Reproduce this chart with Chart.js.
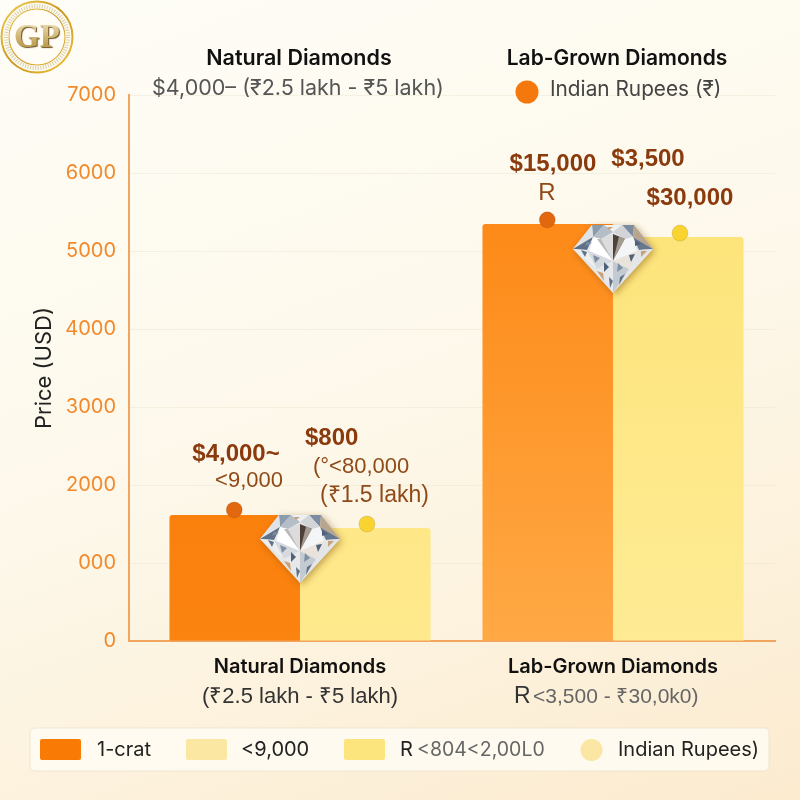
<!DOCTYPE html>
<html>
<head>
<meta charset="utf-8">
<script src="https://cdn.jsdelivr.net/npm/chart.js@4/dist/chart.umd.min.js"></script>
<style>
  html, body { margin: 0; padding: 0; width: 800px; height: 800px; overflow: hidden; }
  body { background: linear-gradient(160deg, #fefdf7 0%, #fdf8ea 50%, #fcebcf 100%); }
  #wrap { position: absolute; left: 0; top: 0; width: 800px; height: 800px; }
</style>
</head>
<body>
<div id="wrap"><canvas id="priceChart" width="800" height="800"></canvas></div>
<script>
// Dados
const categories = ['Natural Diamonds', 'Lab-Grown Diamonds'];
const categorySubs = ['(₹2.5 lakh - ₹5 lakh)', '<3,500 - ₹30,0k0)'];
const orangeValues = [1615, 5346];
const yellowValues = [1450, 5180];
const orangeDotX = [0.79, 1.79];
const orangeDotY = [1680, 5400];
const yellowDotX = [1.214, 2.214];
const yellowDotY = [1500, 5230];
const diamondX = [1, 2];
const diamondY = [1154, 4872];
const yTickLabels = ['0', '000', '2000', '3000', '4000', '5000', '6000', '7000'];

const FONT = 'Inter, "Liberation Sans", sans-serif';
const ARIAL = '"Liberation Sans", sans-serif';

// Diamante desenhado num canvas e usado como pointStyle
function makeDiamond() {
    const c = document.createElement('canvas');
    c.width = 96; c.height = 84;
    const g = c.getContext('2d');
    g.translate(8, 6);
    const face = (pts, col) => {
        g.beginPath();
        pts.forEach((p, i) => i ? g.lineTo(p[0], p[1]) : g.moveTo(p[0], p[1]));
        g.closePath();
        g.fillStyle = col;
        g.fill();
    };
    g.save();
    g.shadowColor = 'rgba(120,70,10,0.45)';
    g.shadowBlur = 7;
    g.shadowOffsetX = 2;
    g.shadowOffsetY = 2;
    face([[19, 0], [61, 0], [80, 24], [40, 68], [0, 24]], '#e4e6e8');
    g.restore();
    // coroa
    face([[19, 0], [31, 0], [20, 12]], '#8d9cad');
    face([[31, 0], [49, 0], [40, 7]], '#eef0f2');
    face([[49, 0], [61, 0], [60, 12]], '#7c8ca0');
    face([[19, 0], [20, 12], [0, 24]], '#dfe3e7');
    face([[61, 0], [60, 12], [80, 24]], '#b8a58e');
    face([[0, 24], [20, 12], [14, 25]], '#5f7087');
    face([[80, 24], [60, 12], [66, 25]], '#66778e');
    face([[20, 12], [31, 0], [40, 7], [28, 14]], '#b5bdc6');
    face([[60, 12], [49, 0], [40, 7], [52, 14]], '#d2d4d7');
    // mesa central
    face([[28, 14], [40, 9], [40, 36]], '#dcdcdc');
    face([[52, 14], [40, 9], [40, 36]], '#4d4038');
    face([[46, 11.5], [52, 14], [40, 36]], '#a39a92');
    face([[20, 12], [28, 14], [40, 36], [16, 27]], '#ffffff');
    face([[60, 12], [52, 14], [40, 36], [64, 27]], '#f4f5f6');
    face([[24, 14], [28, 14], [40, 36]], '#b9b9b9');
    // pavilhao
    face([[0, 24], [14, 25], [24, 44]], '#eceef0');
    face([[14, 25], [40, 36], [24, 44]], '#d6dade');
    face([[24, 44], [40, 36], [40, 68]], '#e6e8ea');
    face([[40, 36], [56, 44], [40, 68]], '#c3cad1');
    face([[40, 36], [66, 25], [56, 44]], '#e9e3db');
    face([[66, 25], [80, 24], [56, 44]], '#e3e6e9');
    // reflexos pequenos
    const chips = [
        [[8, 25], [14, 27], [12, 32]], [[20, 30], [27, 33], [22, 38]],
        [[31, 37], [36, 42], [31, 47]], [[24, 46], [30, 48], [31, 56]],
        [[36, 52], [40, 56], [37, 63]], [[45, 38], [50, 43], [44, 47]],
        [[56, 30], [62, 29], [58, 37]], [[68, 26], [74, 26], [68, 32]],
        [[47, 52], [52, 49], [46, 60]], [[14, 17], [19, 18], [12, 21]],
        [[62, 15], [68, 19], [62, 21]], [[34, 2], [40, 2], [36, 5]]
    ];
    const tints = ['#5f7289', '#7f90a4', '#4f6179', '#c9a178'];
    chips.forEach((p, i) => face(p, tints[i % tints.length]));
    return c;
}

// Fundo faz parte do CSS; aqui ficam os textos e o logo
function drawText(ctx, text, x, y, font, color, align) {
    ctx.font = font;
    ctx.fillStyle = color;
    ctx.textAlign = align || 'left';
    ctx.textBaseline = 'middle';
    ctx.fillText(text, x, y);
}

function drawLogo(ctx) {
    const cx = 37, cy = 37;
    ctx.save();
    const gold = ctx.createLinearGradient(0, 0, 74, 74);
    gold.addColorStop(0, '#f6d35a');
    gold.addColorStop(0.5, '#c8961e');
    gold.addColorStop(1, '#f2c63c');
    ctx.beginPath(); ctx.arc(cx, cy, 35.5, 0, Math.PI * 2);
    ctx.fillStyle = '#fdfaf0'; ctx.fill();
    ctx.lineWidth = 2; ctx.strokeStyle = gold; ctx.stroke();
    ctx.beginPath(); ctx.arc(cx, cy, 31, 0, Math.PI * 2);
    ctx.setLineDash([1, 1.6]); ctx.lineWidth = 4; ctx.strokeStyle = '#d9cfae'; ctx.stroke();
    ctx.setLineDash([]);
    ctx.beginPath(); ctx.arc(cx, cy, 27.5, 0, Math.PI * 2);
    ctx.lineWidth = 2; ctx.strokeStyle = gold; ctx.stroke();
    ctx.fillStyle = '#fffdf6'; ctx.fill();
    ctx.shadowColor = 'rgba(90,60,10,0.9)';
    ctx.shadowOffsetX = 1; ctx.shadowOffsetY = 1; ctx.shadowBlur = 1;
    const tg = ctx.createLinearGradient(0, 24, 0, 50);
    tg.addColorStop(0, '#e9d9a8');
    tg.addColorStop(1, '#b4923f');
    drawText(ctx, 'GP', cx, cy + 1, 'bold 33px "Liberation Serif", serif', tg, 'center');
    ctx.restore();
}

function drawLegend(ctx) {
    ctx.save();
    ctx.beginPath();
    ctx.roundRect(30, 728, 739, 43, 5);
    ctx.fillStyle = 'rgba(255,253,245,0.8)';
    ctx.fill();
    ctx.strokeStyle = 'rgba(235,225,205,0.8)';
    ctx.lineWidth = 1;
    ctx.stroke();
    const swatch = (x, col) => {
        ctx.beginPath();
        ctx.roundRect(x, 739, 41, 21, 2);
        ctx.fillStyle = col;
        ctx.fill();
    };
    swatch(40, '#f97b05');
    swatch(186, '#fbe7a2');
    swatch(344, '#fde57e');
    ctx.beginPath();
    ctx.arc(591.5, 750, 11, 0, Math.PI * 2);
    ctx.fillStyle = '#fbe6a4';
    ctx.fill();
    const f = '20px ' + FONT;
    drawText(ctx, '1-crat', 97, 750, f, '#222');
    drawText(ctx, '<9,000', 241, 750, f, '#222');
    drawText(ctx, 'R', 400, 750, f, '#222');
    drawText(ctx, '<804<2,00L0', 417, 750, '19.5px ' + FONT, '#666');
    drawText(ctx, 'Indian Rupees)', 618, 750, f, '#222');
    ctx.restore();
}

const annotationPlugin = {
    id: 'annotations',
    beforeDatasetsDraw(chart) {
        const ctx = chart.ctx;
        ctx.save();
        // cabeçalho
        drawText(ctx, categories[0], 299, 59, '600 21.5px ' + FONT, '#111', 'center');
        drawText(ctx, '$4,000– (₹2.5 lakh - ₹5 lakh)', 298, 89, '21.5px ' + FONT, '#555', 'center');
        drawText(ctx, categories[1], 617, 59, '600 21px ' + FONT, '#111', 'center');
        drawText(ctx, 'Indian Rupees (₹)', 550, 90, '20.8px ' + FONT, '#444');
        ctx.beginPath();
        ctx.arc(527, 92, 11.5, 0, Math.PI * 2);
        ctx.fillStyle = '#f5780c';
        ctx.fill();
        ctx.restore();
    },
    afterDraw(chart) {
        const ctx = chart.ctx;
        const x = chart.scales.x;
        const brown = '#8a3a0c';
        const bold = 'bold 24px ' + ARIAL;
        const thin = '22px ' + ARIAL;
        ctx.save();
        // rótulos das barras
        drawText(ctx, '$4,000~', 236, 454, bold, brown, 'center');
        drawText(ctx, '<9,000', 283, 481, thin, '#8f4a18', 'right');
        drawText(ctx, '$800', 305, 438, bold, brown);
        drawText(ctx, '(°<80,000', 313, 467, thin, '#8f4a18');
        drawText(ctx, '(₹1.5 lakh)', 320, 496, '23px ' + ARIAL, '#8f4a18');
        drawText(ctx, '$15,000', 553, 164, bold, brown, 'center');
        drawText(ctx, 'R', 547, 193, '24px ' + ARIAL, '#8f4a18', 'center');
        drawText(ctx, '$3,500', 648, 159, bold, brown, 'center');
        drawText(ctx, '$30,000', 690, 198, bold, brown, 'center');
        // segunda linha do eixo x
        drawText(ctx, categorySubs[0], x.getPixelForValue(1), 697, '22px ' + ARIAL, '#333', 'center');
        drawText(ctx, 'R', 514, 697, '23px ' + ARIAL, '#333');
        drawText(ctx, categorySubs[1], 533, 697, '21px ' + ARIAL, '#666');
        ctx.restore();
        drawLegend(ctx);
        drawLogo(ctx);
    }
};

function barFill(top, bottom) {
    return (context) => {
        const { chart, dataIndex } = context;
        if (!chart.chartArea) return top[dataIndex];
        const g = chart.ctx.createLinearGradient(0, 225, 0, chart.chartArea.bottom);
        g.addColorStop(0, top[dataIndex]);
        g.addColorStop(1, bottom[dataIndex]);
        return g;
    };
}

const toPoints = (xs, ys) => xs.map((x, i) => ({ x: x, y: ys[i] }));

new Chart(document.getElementById('priceChart'), {
    type: 'bar',
    plugins: [annotationPlugin],
    data: {
        datasets: [
            {
                label: '1-crat',
                data: toPoints([1, 2], orangeValues),
                backgroundColor: barFill(['#f97b05', '#fd8a18'], ['#fb8310', '#ffa945']),
                borderRadius: { topLeft: 3, topRight: 0, bottomLeft: 0, bottomRight: 0 },
                borderSkipped: false,
                order: 3
            },
            {
                label: '<9,000',
                data: toPoints([1, 2], yellowValues),
                backgroundColor: barFill(['#fde27a', '#fde47a'], ['#fee98c', '#feeb94']),
                borderRadius: { topLeft: 0, topRight: 3, bottomLeft: 0, bottomRight: 0 },
                borderSkipped: false,
                order: 3
            },
            {
                type: 'scatter',
                data: toPoints(orangeDotX, orangeDotY),
                backgroundColor: '#e2680f',
                pointRadius: 8,
                order: 2
            },
            {
                type: 'scatter',
                data: toPoints(yellowDotX, yellowDotY),
                backgroundColor: '#f9d330',
                pointRadius: 8,
                order: 2
            },
            {
                type: 'scatter',
                data: toPoints(diamondX, diamondY),
                pointStyle: makeDiamond(),
                order: 1
            }
        ]
    },
    options: {
        responsive: false,
        animation: false,
        devicePixelRatio: 1,
        categoryPercentage: 0.834,
        barPercentage: 1,
        layout: { padding: { left: 29, top: 95, right: 25, bottom: 0 } },
        plugins: { legend: { display: false }, tooltip: { enabled: false } },
        scales: {
            x: {
                type: 'linear',
                offset: false,
                min: 0.4537,
                max: 2.5176,
                grid: { display: false },
                border: { color: '#f2a55e', width: 2 },
                afterFit: (scale) => { scale.height = 159; },
                ticks: {
                    stepSize: 1,
                    includeBounds: false,
                    autoSkip: false,
                    maxRotation: 0,
                    padding: 6,
                    color: '#111',
                    font: { family: FONT, size: 20, weight: '600' },
                    callback: (v) => categories[v - 1]
                }
            },
            y: {
                min: 0,
                max: 7000,
                grid: { color: 'rgba(236,226,203,0.45)', drawTicks: false },
                border: { color: '#f2a55e', width: 2 },
                afterFit: (scale) => { scale.width = 100; },
                title: {
                    display: true,
                    text: 'Price (USD)',
                    color: '#222',
                    padding: { top: 2, bottom: 0 },
                    font: { family: FONT, size: 22 }
                },
                ticks: {
                    stepSize: 1000,
                    padding: 13,
                    color: '#f08a2c',
                    font: { family: FONT, size: 20 },
                    callback: (v) => yTickLabels[v / 1000]
                }
            }
        }
    }
});
</script>
</body>
</html>
